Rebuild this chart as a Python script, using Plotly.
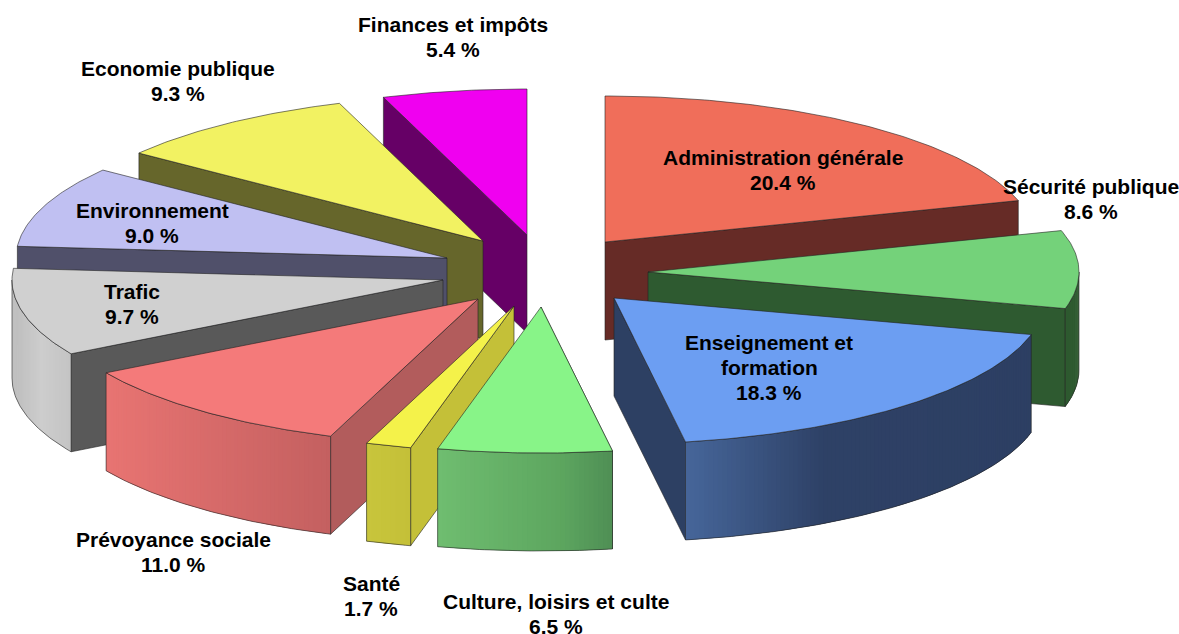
import math
import plotly.graph_objects as go

categories = ["Administration générale", "Sécurité publique", "Enseignement et<br>formation",
              "Culture, loisirs et culte", "Santé", "Prévoyance sociale", "Trafic",
              "Environnement", "Economie publique", "Finances et impôts"]
shares = [20.4, 8.6, 18.3, 6.5, 1.7, 11.0, 9.7, 9.0, 9.3, 5.4]
top_colors = ["#F06E5A", "#74D27A", "#6C9EF2", "#88F488", "#F4F24A",
              "#F47A7A", "#D0D0D0", "#C0C0F2", "#F2F262", "#F000F0"]
radial_colors = ["#662B26", "#2E5A30", "#2D4063", "#5DA65F", "#C4C038",
                 "#B25C5C", "#595959", "#50506A", "#66662B", "#660066"]
wall_stops = [
    [(0, "#662B26"), (1, "#662B26")],
    [(0, "#2E5A30"), (1, "#2E5A30")],
    [(0, "#46669A"), (0.4, "#2E4166"), (1, "#2D3F63")],
    [(0, "#6FBD70"), (0.7, "#5DA65F"), (1, "#4F8F55")],
    [(0, "#C8C53C"), (1, "#C4C038")],
    [(0, "#E87472"), (1, "#C46060")],
    [(0, "#BDBDBD"), (0.5, "#CDCDCD"), (1, "#C4C4C4")],
    [(0, "#50506A"), (1, "#50506A")],
    [(0, "#66662B"), (1, "#66662B")],
    [(0, "#660066"), (1, "#660066")],
]
# exploded apex of each slice on the page
apex_x = [605, 648, 614, 541, 514, 478, 443, 447, 483, 527]
apex_y = [242, 272, 298, 307, 306, 299, 280, 258, 241, 235]
draw_order = [0, 1, 2, 9, 8, 7, 6, 5, 4, 3]
label_x = [783, 1091, 769, 556, 371, 173, 132, 152, 178, 453]
label_y = [170, 199, 367.5, 613.5, 595.5, 551.5, 303.5, 222.5, 80.5, 36.5]

RX, RY, DEPTH = 431, 146, 98
LINE_PITCH = 25
EDGE = "rgba(35,35,35,0.75)"
total = sum(shares)


def hex_rgb(c):
    return tuple(int(c[i:i + 2], 16) for i in (1, 3, 5))


def grad(stops, f):
    for (a, ca), (b, cb) in zip(stops, stops[1:]):
        if f <= b:
            u = (f - a) / (b - a) if b > a else 0
            p, q = hex_rgb(ca), hex_rgb(cb)
            return "rgb(%d,%d,%d)" % tuple(round(p[k] + (q[k] - p[k]) * u) for k in range(3))
    return stops[-1][1]


fig = go.Figure()


def poly(xs, ys, fill=None, line=None, width=0.8):
    fig.add_trace(go.Scatter(
        x=xs, y=ys, mode="lines", fill="toself" if fill else None, fillcolor=fill,
        line=dict(color=line or "rgba(0,0,0,0)", width=width),
        hoverinfo="skip", showlegend=False))


def rim(i, t):
    r = math.radians(t)
    return apex_x[i] + RX * math.sin(r), apex_y[i] - RY * math.cos(r)


cum = [0]
for s in shares:
    cum.append(cum[-1] + s / total * 360)

for i in draw_order:
    t0, t1 = cum[i], cum[i + 1]
    mid = (t0 + t1) / 2
    ax, ay = apex_x[i], apex_y[i]
    # radial wall facing the viewer
    tr = t1 if mid < 180 else t0
    ex, ey = rim(i, tr)
    poly([ax, ex, ex, ax, ax], [ay, ey, ey + DEPTH, ay + DEPTH, ay],
         fill=radial_colors[i], line=EDGE)
    # outer curved wall, front half only
    a, b = max(t0, 90), min(t1, 270)
    if b > a:
        n = max(8, int((b - a) * 1.6))
        ts = [a + (b - a) * k / n for k in range(n + 1)]
        pts = [rim(i, t) for t in ts]
        xmin, xmax = min(p[0] for p in pts), max(p[0] for p in pts)
        for k in range(n):
            (x0, y0), (x1, y1) = pts[k], pts[min(k + 2, n)]
            f = ((pts[k][0] + pts[k + 1][0]) / 2 - xmin) / (xmax - xmin)
            poly([x0, x1, x1, x0, x0], [y0, y1, y1 + DEPTH, y0 + DEPTH, y0], fill=grad(wall_stops[i], f), width=0)
        xs = [p[0] for p in pts]
        ys = [p[1] for p in pts]
        poly(xs + xs[::-1] + [xs[0]], ys + [y + DEPTH for y in ys[::-1]] + [ys[0]], line=EDGE)
    # top face
    n = max(6, int((t1 - t0) * 1.5))
    arc = [rim(i, t0 + (t1 - t0) * k / n) for k in range(n + 1)]
    poly([ax] + [p[0] for p in arc] + [ax], [ay] + [p[1] for p in arc] + [ay],
         fill=top_colors[i], line=EDGE)

annotations = []
for c, s, x, y in zip(categories, shares, label_x, label_y):
    lines = c.split("<br>") + [f"{s:.1f} %"]
    for j, txt in enumerate(lines):
        annotations.append(dict(
            x=x, y=y + (j - (len(lines) - 1) / 2) * LINE_PITCH, xref="x", yref="y",
            showarrow=False, xanchor="center", yanchor="middle", text=txt,
            font=dict(family="Liberation Sans, Arial, sans-serif", size=21, color="black", weight="bold")))

fig.update_layout(
    width=1179, height=634, margin=dict(l=0, r=0, t=0, b=0),
    paper_bgcolor="white", plot_bgcolor="white", annotations=annotations,
    xaxis=dict(range=[0, 1179], visible=False, fixedrange=True),
    yaxis=dict(range=[634, 0], visible=False, fixedrange=True),
)
fig.write_html("out.html", config={"displayModeBar": False},
               post_script="document.body.style.margin='0';document.body.style.overflow='hidden';")
